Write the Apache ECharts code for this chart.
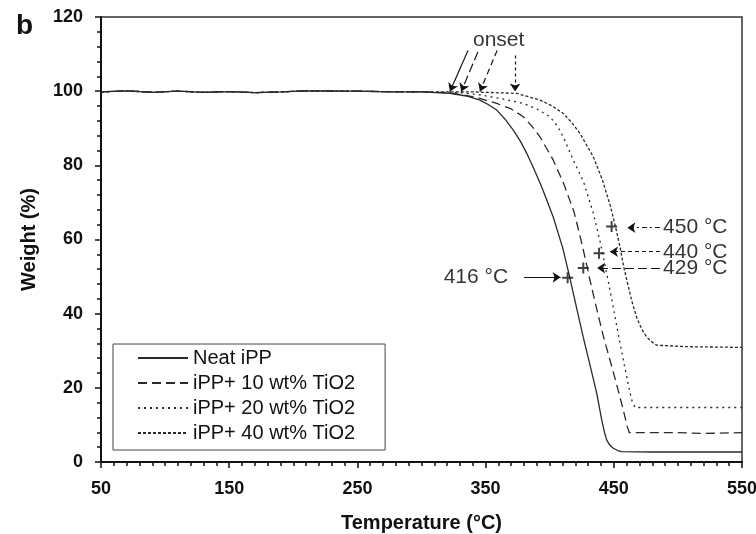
<!DOCTYPE html>
<html>
<head>
<meta charset="utf-8">
<script src="https://cdn.jsdelivr.net/npm/echarts@6/dist/echarts.min.js"></script>
<style>
  html, body { margin: 0; padding: 0; background: #fff; }
  #main { width: 756px; height: 534px; }
</style>
</head>
<body>
<div id="main"></div>
<script>
// TGA curves, [temperature °C, weight %]
var neatIPP = [[50,99.8],[70,100.1],[90,99.7],[110,100],[130,99.7],[150,99.9],[170,99.6],[190,99.8],[210,100.1],[250,100],[280,99.8],[300,99.8],[322.2,99.4],
  [335,98.7],[345.6,97.6],[352,96.4],[358.7,94.9],[365,92.5],[371.6,89.5],[377,86.6],[382,83.3],[388,78.8],[393.7,74.2],[398,70.4],[402.8,66],[410.1,57.8],
  [415.3,50.3],[419,44.6],[423.1,38.3],[426.2,33.6],[431.4,26.2],[436.7,18.5],[440.6,11.3],[442.8,7.9],[444.5,5.9],[447,4.5],[449.6,3.7],[453,3.1],[456.2,2.8],[480,2.7],[550,2.7]];
var ipp10 = [[50,99.8],[70,100.1],[90,99.7],[110,100],[130,99.7],[150,99.9],[170,99.6],[190,99.8],[210,100.1],[250,100],[280,99.8],[300,99.8],[320,99.6],
  [332.6,99],[345,98.1],[358.7,96.7],[370,95.2],[379.4,93.1],[386,90.6],[392.4,87.7],[402.8,81.4],[411,75],[419,67.4],[424.3,60],[428,54.5],
  [430.9,49.8],[436.7,41.2],[441.8,34],[447,27.5],[452.3,20.8],[457.4,14],[460.6,9.4],[462.1,7.9],[500,7.9],[520,7.7],[550,7.9]];
var ipp20 = [[50,99.8],[70,100.1],[90,99.7],[110,100],[130,99.7],[150,99.9],[170,99.6],[190,99.8],[210,100.1],[250,100],[280,99.8],[300,99.8],[330,99.6],
  [345.6,99],[362,98],[379.4,96.7],[390,95.2],[400.2,93.1],[406,90.6],[410.6,87.7],[418.4,81.4],[426.5,75.5],[434,67.1],[439.2,59.6],[443.1,53.2],
  [444.8,50.3],[448.4,43.8],[452.3,36.7],[456.2,29.6],[460.6,22],[464,16.7],[466.5,14.7],[500,14.7],[550,14.7]];
var ipp40 = [[50,99.8],[70,100.1],[90,99.7],[110,100],[130,99.7],[150,99.9],[170,99.6],[190,99.8],[210,100.1],[250,100],[280,99.8],[300,99.8],[340,99.8],
  [374.3,99.4],[392.4,97.6],[402,96],[410.6,94],[417,91.6],[423.6,88.6],[434,82.3],[441.2,76],[447.5,68.8],[451.2,63.6],[454.8,58.1],[457.8,52.5],
  [461,47.8],[464,43.5],[467.8,39],[471.8,35.8],[475.7,33.7],[479.6,32.4],[483.5,31.5],[506.9,31.1],[550,30.9]];

var seriesNames = ['Neat iPP', 'iPP+ 10 wt% TiO2', 'iPP+ 20 wt% TiO2', 'iPP+ 40 wt% TiO2'];

// T50% points marked with +
var halfLossPts = [[414,49.7],[426.2,52.3],[438.5,56.3],[448.3,63.5]];

// annotation texts
var noteTexts = [
  {name: 'onset', value: [360.2, 113.8], pos: 'inside'},
  {name: '450 °C', value: [486.5, 63.2], pos: 'right'},
  {name: '440 °C', value: [486.5, 56.7], pos: 'right'},
  {name: '429 °C', value: [486.5, 52.3], pos: 'right'},
  {name: '416 °C', value: [369.5, 49.8], pos: 'left'}
];
// annotation arrows [from, to, dash]
var arrows = [
  [[336.3,111],[322.2,99.9],'solid'],
  [[344,110.6],[331,99.9],[9,4]],
  [[359,111],[345.6,99.9],[6,4]],
  [[373,109.6],[373,99.9],[3,3]],
  [[486,63.2],[460.6,63.2],[5,3,2,3]],
  [[486,56.7],[447,56.7],[4,3]],
  [[486,52.3],[437,52.3],[9,4]],
  [[380,49.8],[408.5,49.8],'solid']
];

var ink = '#111';
var chart = echarts.init(document.getElementById('main'));

function curve(name, data, dash) {
  return {
    name: name, type: 'line', data: data, symbol: 'none',
    smooth: false,
    lineStyle: {color: '#2a2a2a', width: 1.3, type: dash},
    itemStyle: {color: '#2a2a2a'}
  };
}

chart.setOption({
  animation: false,
  backgroundColor: '#fff',
  textStyle: {fontFamily: 'Liberation Sans, Arial, sans-serif', color: ink},
  graphic: [{
    type: 'text', left: 16, top: 12,
    style: {text: 'b', font: 'bold 28px Liberation Sans', fill: ink}
  }],
  grid: {left: 101, right: 14, top: 17, bottom: 72, outerBoundsMode: 'none', show: true, borderColor: '#333', borderWidth: 1.5},
  legend: {
    data: seriesNames,
    orient: 'vertical', left: 113, top: 344,
    padding: [4, 30, 7, 24],
    itemGap: 5,
    itemWidth: 50, itemHeight: 14,
    itemStyle: {opacity: 0},
    borderColor: '#444', borderWidth: 1,
    textStyle: {fontSize: 20, color: ink, fontFamily: 'Liberation Sans'}
  },
  xAxis: {
    type: 'value', min: 50, max: 550, interval: 100,
    name: 'Temperature (°C)', nameLocation: 'middle', nameGap: 51,
    nameTextStyle: {fontSize: 20, fontWeight: 'bold', color: ink},
    axisLine: {lineStyle: {color: ink, width: 2}},
    axisTick: {inside: false, length: 6, lineStyle: {color: ink, width: 1.5}},
    minorTick: {show: true, splitNumber: 10, length: 4, lineStyle: {color: ink, width: 1.5}},
    axisLabel: {fontSize: 18, fontWeight: 'bold', color: ink, margin: 18},
    splitLine: {show: false}
  },
  yAxis: {
    type: 'value', min: 0, max: 120, interval: 20,
    name: 'Weight (%)', nameLocation: 'middle', nameGap: 62,
    nameTextStyle: {fontSize: 20, fontWeight: 'bold', color: ink},
    axisLine: {show: true, lineStyle: {color: ink, width: 2}},
    axisTick: {show: true, inside: false, length: 6, lineStyle: {color: ink, width: 1.5}},
    minorTick: {show: true, splitNumber: 5, length: 4, lineStyle: {color: ink, width: 1.5}},
    axisLabel: {fontSize: 18, fontWeight: 'bold', color: ink, margin: 18},
    splitLine: {show: false}
  },
  series: [
    curve(seriesNames[0], neatIPP, 'solid'),
    curve(seriesNames[1], ipp10, [9, 5]),
    curve(seriesNames[2], ipp20, [2, 4]),
    curve(seriesNames[3], ipp40, [3, 2]),
    {
      type: 'scatter', name: 'T50',
      data: halfLossPts,
      symbol: 'path://M0,4.1H10V5.9H0Z M4.1,0H5.9V10H4.1Z',
      symbolSize: 11,
      itemStyle: {color: ink},
      z: 5
    },
    {
      type: 'lines', coordinateSystem: 'cartesian2d',
      polyline: false,
      symbol: ['none', 'arrow'], symbolSize: 8,
      data: arrows.map(function (a) {
        return {coords: [a[0], a[1]], lineStyle: {type: a[2]}};
      }),
      lineStyle: {color: ink, width: 1.2, opacity: 1},
      z: 5
    },
    {
      type: 'scatter', name: 'notes',
      symbolSize: 1,
      itemStyle: {color: 'rgba(0,0,0,0)'},
      data: noteTexts.map(function (n) {
        return {name: n.name, value: n.value, label: {position: n.pos}};
      }),
      label: {
        show: true, formatter: '{b}', distance: 2,
        fontSize: 21, color: '#000', fontFamily: 'Liberation Sans'
      },
      z: 6
    }
  ]
});
</script>
</body>
</html>
